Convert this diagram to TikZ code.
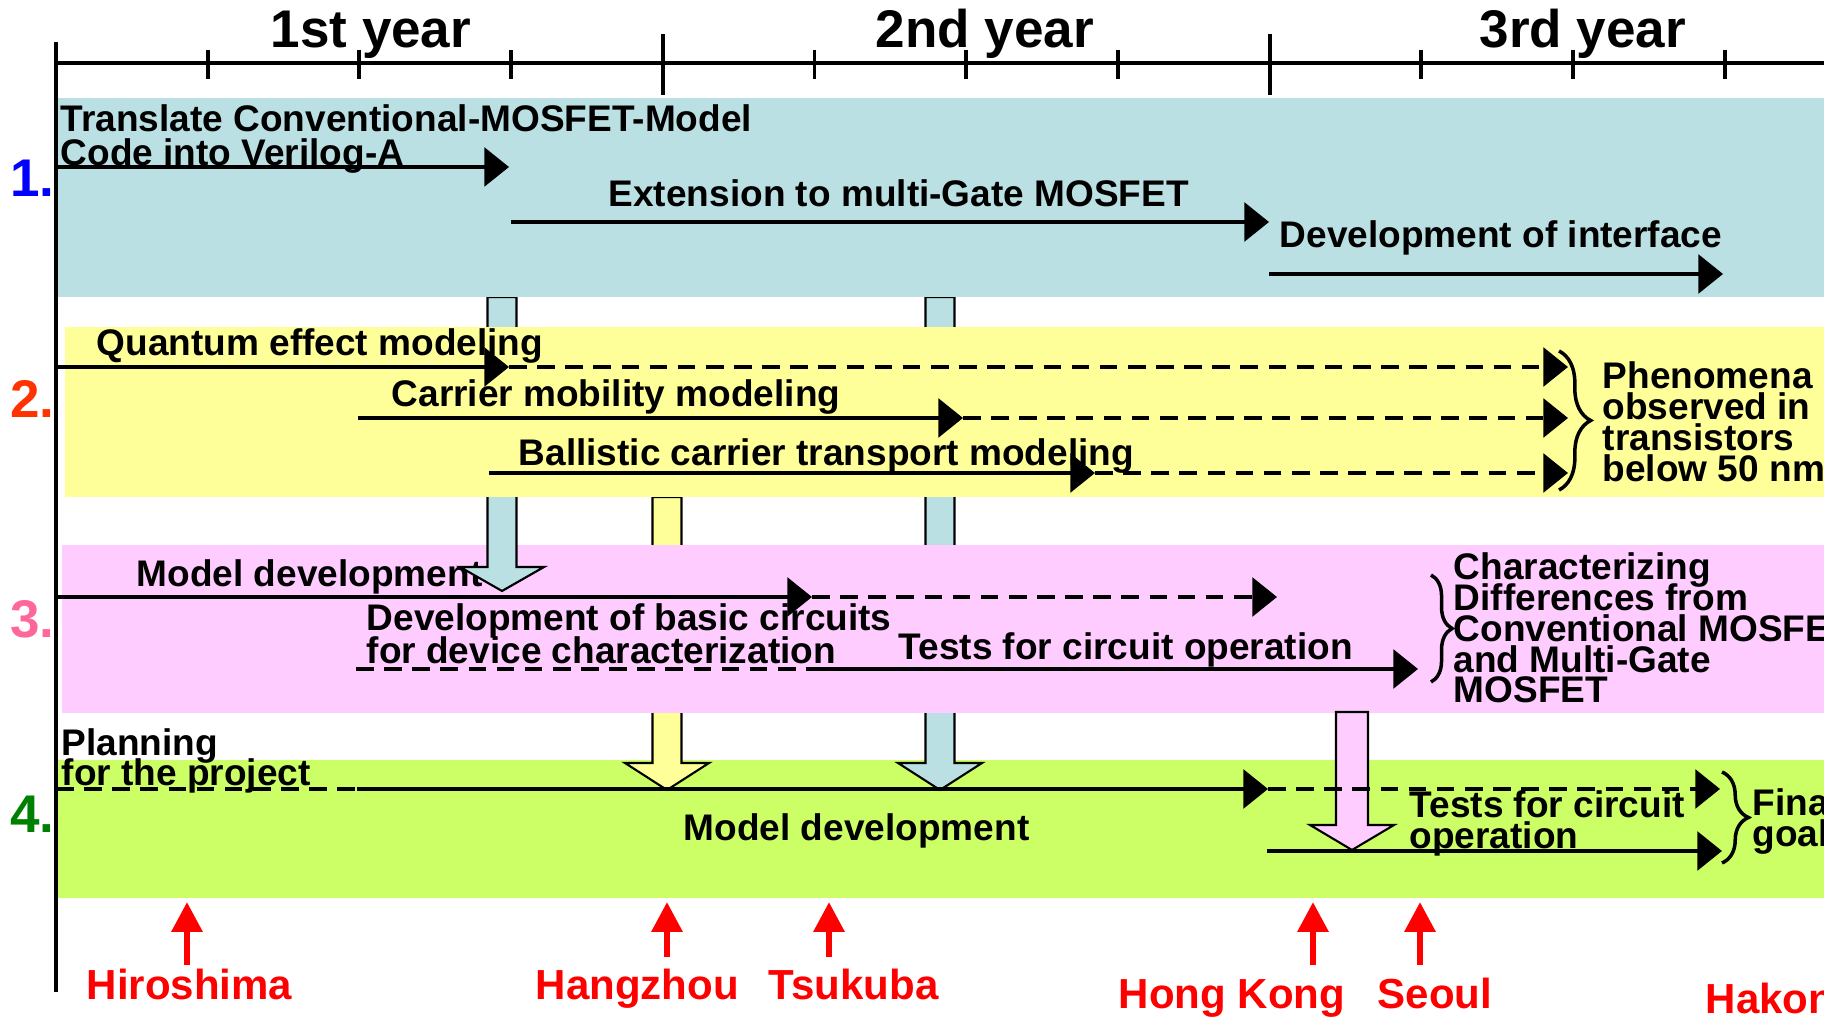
\documentclass[tikz,border=0pt]{standalone}
\usepackage{fontspec}
\setmainfont{Liberation Sans}
\usetikzlibrary{arrows.meta,decorations.pathreplacing}
\definecolor{bandblue}{HTML}{BAE0E3}
\definecolor{bandyellow}{HTML}{FFFF99}
\definecolor{bandpink}{HTML}{FFCCFF}
\definecolor{bandgreen}{HTML}{CCFF66}
\definecolor{lblone}{HTML}{0000FF}
\definecolor{lbltwo}{HTML}{FF3300}
\definecolor{lblthree}{HTML}{FF6699}
\definecolor{lblfour}{HTML}{008000}
\newcommand{\stk}[2]{\vtop{\baselineskip=#1\lineskiplimit=-\maxdimen\lineskip=0pt\halign{##\hfil\cr#2\crcr}}}
\begin{document}
\begin{tikzpicture}[x=0.01cm,y=-0.01cm,
  txt/.style={anchor=base west,inner sep=0pt,yshift=-0.022cm,font=\bfseries\fontsize{10.53}{12}\selectfont},
  yr/.style={anchor=base west,inner sep=0pt,font=\bfseries\fontsize{15.08}{18}\selectfont},
  rowlbl/.style={anchor=base east,inner sep=0pt,font=\bfseries\fontsize{15.08}{18}\selectfont},
  city/.style={anchor=base west,inner sep=0pt,text=red,font=\bfseries\fontsize{11.95}{14}\selectfont},
  axisline/.style={line width=1.1pt},
  sarr/.style={line width=1pt,-{Triangle[length=7pt,width=11pt]}},
  darr/.style={sarr,dash pattern=on 5pt off 3pt},
  dline/.style={line width=1pt,dash pattern=on 5pt off 3pt},
  sline/.style={line width=1pt},
  brc/.style={line width=1pt,decorate,decoration={brace,amplitude=#1}},
  redarr/.style={draw=red,line width=1.8pt,-{Triangle[length=8.5pt,width=8.5pt]}},
  blk/.style={draw=black,line width=0.6pt}
]
\path[use as bounding box] (0,0) rectangle (1824,1019);
\clip (0,0) rectangle (1824,1019);
\fill[white] (0,0) rectangle (1824,1019);

% ---- bands and block arrows (layered) ----
\fill[bandgreen] (57,760) rectangle (1824,898);
\draw[blk,fill=bandblue] (925.5,297) -- (925.5,763) -- (898,763) -- (940,790) -- (982,763) -- (954.5,763) -- (954.5,297) -- cycle;
\draw[blk,fill=bandyellow] (652.5,497) -- (652.5,763) -- (625,763) -- (667,790) -- (709,763) -- (681.5,763) -- (681.5,497) -- cycle;
\fill[bandpink] (62,545) rectangle (1824,713);
\draw[blk,fill=bandpink] (1336,712) -- (1336,825) -- (1310,825) -- (1352,850) -- (1394,825) -- (1368,825) -- (1368,712) -- cycle;
\node[txt] (t8) at (136,584) {Model development};
\draw[blk,fill=bandblue] (487.5,297) -- (487.5,567) -- (460,567) -- (502,591) -- (544,567) -- (516.5,567) -- (516.5,297) -- cycle;
\fill[bandyellow] (65,327) rectangle (1824,497);
\fill[bandblue] (56,98) rectangle (1824,297);

% ---- time axis ----
\draw[axisline] (56,42) -- (56,992);
\draw[axisline] (56,63) -- (1824,63);
\foreach \q in {1,2,3,5,6,7,9,10,11} \draw[axisline] ({56+151.7*\q},50) -- ({56+151.7*\q},79);
\foreach \q in {4,8} \draw[axisline] ({56+151.7*\q},34) -- ({56+151.7*\q},95);
\node[yr] (y1) at (270,48) {1st year};
\node[yr] (y2) at (875,48) {2nd year};
\node[yr] (y3) at (1479,48) {3rd year};

% ---- row labels ----
\node[rowlbl,text=lblone] (r1) at (55,197) {1.};
\node[rowlbl,text=lbltwo] (r2) at (55,418) {2.};
\node[rowlbl,text=lblthree] (r3) at (55,638) {3.};
\node[rowlbl,text=lblfour] (r4) at (55,833) {4.};

% ---- row 1 ----
\node[txt] (t1) at (60,129) {\stk{9.67pt}{Translate Conventional-MOSFET-Model\cr Code into Verilog-A}};
\node[txt] (t2) at (608,204) {Extension to multi-Gate MOSFET};
\node[txt] (t3) at (1279,245) {Development of interface};
\coordinate (a1s) at (56,167); \coordinate (a1e) at (509,167);
\coordinate (a2s) at (511,222); \coordinate (a2e) at (1269,222);
\coordinate (a3s) at (1269,274); \coordinate (a3e) at (1723,274);
\draw[sarr] (a1s) -- (a1e);
\draw[sarr] (a2s) -- (a2e);
\draw[sarr] (a3s) -- (a3e);

% ---- row 2 ----
\node[txt] (t4) at (96,353) {Quantum effect modeling};
\node[txt] (t5) at (391,404) {Carrier mobility modeling};
\node[txt] (t6) at (518,463) {Ballistic carrier transport modeling};
\coordinate (b1s) at (56,367); \coordinate (b1m) at (509,367); \coordinate (b1e) at (1568,367);
\coordinate (b2s) at (358,418); \coordinate (b2m) at (963,418); \coordinate (b2e) at (1568,418);
\coordinate (b3s) at (489,473); \coordinate (b3m) at (1095,473); \coordinate (b3e) at (1568,473);
\draw[darr] (b1m) -- (b1e);
\draw[darr] (b2m) -- (b2e);
\draw[darr] (b3m) -- (b3e);
\draw[sarr] (b1s) -- (b1m);
\draw[sarr] (b2s) -- (b2m);
\draw[sarr] (b3s) -- (b3m);
\coordinate (br2a) at (1559,351); \coordinate (br2b) at (1559,490);
\draw[brc=9pt] (br2a) -- (br2b);
\node[txt] (t7) at (1602,386) {\stk{8.8pt}{Phenomena\cr observed in\cr transistors\cr below 50 nm}};

% ---- row 3 ----
\node[txt] (t9) at (366,628) {\stk{9.4pt}{Development of basic circuits\cr for device characterization}};
\node[txt] (t10) at (898,657) {Tests for circuit operation};
\coordinate (c1s) at (56,597); \coordinate (c1m) at (812,597); \coordinate (c1e) at (1277,597);
\coordinate (c2s) at (356,669); \coordinate (c2m) at (813,669); \coordinate (c2e) at (1418,669);
\draw[darr] (c1m) -- (c1e);
\draw[sarr] (c1s) -- (c1m);
\draw[dline] (c2s) -- (c2m);
\draw[sarr] (c2m) -- (c2e);
\coordinate (br3a) at (1431,575); \coordinate (br3b) at (1431,682);
\draw[brc=6pt] (br3a) -- (br3b);
\node[txt] (t11) at (1453,577) {\stk{8.8pt}{Characterizing\cr Differences from\cr Conventional MOSFET\cr and Multi-Gate\cr MOSFET}};

% ---- row 4 ----
\node[txt] (t12) at (61,753) {\stk{8.5pt}{Planning\cr for the project}};
\node[txt] (t13) at (683,838) {Model development};
\node[txt] (t14) at (1409,815) {\stk{8.8pt}{Tests for circuit\cr operation}};
\coordinate (d1s) at (56,789); \coordinate (d1m) at (357,789); \coordinate (d1n) at (1268,789); \coordinate (d1e) at (1720,789);
\coordinate (d2s) at (1267,851); \coordinate (d2e) at (1722,851);
\draw[dline] (d1s) -- (d1m);
\draw[sarr] (d1m) -- (d1n);
\draw[darr] (d1n) -- (d1e);
\draw[sarr] (d2s) -- (d2e);
\coordinate (br4a) at (1722,772); \coordinate (br4b) at (1722,863);
\draw[brc=7.5pt] (br4a) -- (br4b);
\node[txt] (t15) at (1752,813) {\stk{8.8pt}{Final\cr goal}};

% ---- meetings ----
\coordinate (m1b) at (187,965); \coordinate (m1t) at (187,902);
\coordinate (m2b) at (667,957); \coordinate (m2t) at (667,902);
\coordinate (m3b) at (829,957); \coordinate (m3t) at (829,902);
\coordinate (m4b) at (1313,965); \coordinate (m4t) at (1313,902);
\coordinate (m5b) at (1420,965); \coordinate (m5t) at (1420,902);
\draw[redarr] (m1b) -- (m1t);
\draw[redarr] (m2b) -- (m2t);
\draw[redarr] (m3b) -- (m3t);
\draw[redarr] (m4b) -- (m4t);
\draw[redarr] (m5b) -- (m5t);
\node[city] (hiro) at (86,999) {Hiroshima};
\node[city] (hang) at (535,999) {Hangzhou};
\node[city] (tsuk) at (768,999) {Tsukuba};
\node[city] (hong) at (1118,1008) {Hong Kong};
\node[city] (seoul) at (1377,1008) {Seoul};
\node[city] (hako) at (1705,1013) {Hakone};
\end{tikzpicture}
\end{document}
